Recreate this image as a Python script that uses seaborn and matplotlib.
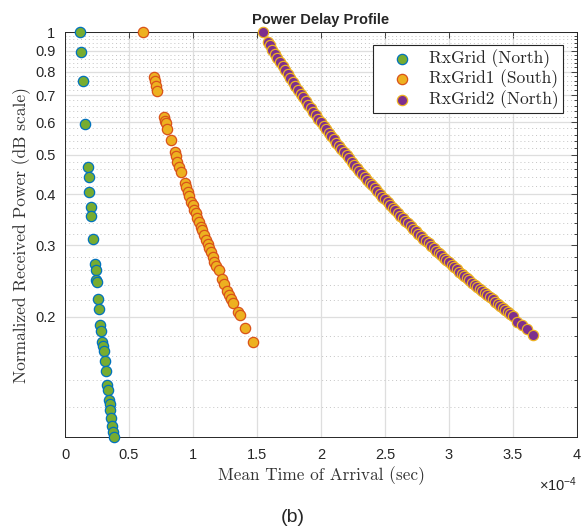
import numpy as np
import pandas as pd
import matplotlib
matplotlib.use('Agg')
import matplotlib.pyplot as plt
import seaborn as sns
from matplotlib.ticker import FixedLocator, NullFormatter

# mean time of arrival, in units of 1e-4 s
north_t = [0.117, 0.125, 0.141, 0.159, 0.177, 0.185, 0.190, 0.200, 0.203, 0.221,
           0.237, 0.242, 0.245, 0.250, 0.255, 0.266, 0.276, 0.284, 0.291, 0.299,
           0.302, 0.312, 0.320, 0.330, 0.336, 0.341, 0.349, 0.354, 0.362, 0.370,
           0.377, 0.385]
north_p = [1.000, 0.892, 0.760, 0.595, 0.466, 0.440, 0.405, 0.373, 0.354, 0.311,
           0.269, 0.261, 0.247, 0.243, 0.221, 0.209, 0.191, 0.185, 0.174, 0.170,
           0.165, 0.156, 0.147, 0.136, 0.132, 0.125, 0.122, 0.118, 0.113, 0.108,
           0.1045, 0.1017]

south_t = [0.609, 0.693, 0.700, 0.708, 0.721, 0.773, 0.781, 0.789, 0.800, 0.828,
           0.857, 0.867, 0.877, 0.893, 0.906, 0.935, 0.945, 0.958, 0.971, 0.984,
           0.997, 1.010, 1.021, 1.034, 1.047, 1.060, 1.070, 1.088, 1.102, 1.115,
           1.127, 1.141, 1.154, 1.166, 1.180, 1.203, 1.227, 1.242, 1.263, 1.281,
           1.294, 1.312, 1.349, 1.367, 1.409, 1.466]
south_p = [1.000, 0.777, 0.758, 0.736, 0.715, 0.619, 0.606, 0.597, 0.579, 0.543,
           0.508, 0.496, 0.481, 0.467, 0.453, 0.427, 0.417, 0.406, 0.395, 0.383,
           0.376, 0.366, 0.359, 0.349, 0.341, 0.333, 0.327, 0.317, 0.309, 0.302,
           0.295, 0.288, 0.280, 0.273, 0.267, 0.260, 0.248, 0.241, 0.232, 0.226,
           0.221, 0.216, 0.206, 0.2017, 0.188, 0.174]

north2_t = [1.549, 1.589, 1.60, 1.62, 1.64, 1.66, 1.68, 1.70, 1.72, 1.74, 1.76, 1.78,
            1.80, 1.82, 1.84, 1.86, 1.88, 1.90, 1.92, 1.94, 1.96, 1.98,
            2.00, 2.02, 2.04, 2.06, 2.08, 2.10, 2.12, 2.14, 2.16, 2.18,
            2.20, 2.22, 2.24, 2.26, 2.28, 2.30, 2.32, 2.34, 2.36, 2.38,
            2.40, 2.42, 2.44, 2.46, 2.48, 2.50, 2.52, 2.54, 2.56, 2.58,
            2.60, 2.62, 2.64, 2.66, 2.68, 2.70, 2.72, 2.74, 2.76, 2.78,
            2.80, 2.82, 2.84, 2.86, 2.88, 2.90, 2.92, 2.94, 2.96, 2.98,
            3.00, 3.02, 3.04, 3.06, 3.08, 3.10, 3.12, 3.14, 3.16, 3.18,
            3.20, 3.22, 3.24, 3.26, 3.28, 3.30, 3.32, 3.34, 3.36, 3.38,
            3.40, 3.42, 3.44, 3.46, 3.48, 3.50, 3.529, 3.567, 3.607, 3.659]
north2_p = [1.000, 0.947, 0.927, 0.9048, 0.8834, 0.8628, 0.8429, 0.8237, 0.8051, 0.7871,
            0.7697, 0.7530, 0.7368, 0.7210, 0.7059, 0.6911, 0.6769, 0.6631, 0.6496, 0.6367,
            0.6240, 0.6118, 0.5999, 0.5885, 0.5772, 0.5663, 0.5558, 0.5455, 0.5355, 0.5258,
            0.5164, 0.5072, 0.4982, 0.4895, 0.4810, 0.4727, 0.4647, 0.4568, 0.4491, 0.4418,
            0.4345, 0.4273, 0.4205, 0.4137, 0.4071, 0.4007, 0.3944, 0.3883, 0.3823, 0.3764,
            0.3707, 0.3651, 0.3597, 0.3543, 0.3491, 0.3440, 0.3391, 0.3342, 0.3294, 0.3247,
            0.3201, 0.3157, 0.3113, 0.3070, 0.3028, 0.2987, 0.2947, 0.2907, 0.2868, 0.2830,
            0.2793, 0.2757, 0.2721, 0.2686, 0.2652, 0.2618, 0.2585, 0.2553, 0.2521, 0.2489,
            0.2459, 0.2428, 0.2399, 0.2370, 0.2342, 0.2314, 0.2287, 0.2260, 0.2233, 0.2207,
            0.2182, 0.2156, 0.2132, 0.2107, 0.2084, 0.2060, 0.2037, 0.2014, 0.1948, 0.191,
            0.1865, 0.181]

labels = ['RxGrid (North)', 'RxGrid1 (South)', 'RxGrid2 (North)']
face_colors = ['#77AC30', '#EDB120', '#7E2F8E']
edge_colors = ['#0072BD', '#D95319', '#EDB120']

x_ticks = [0, 0.5, 1, 1.5, 2, 2.5, 3, 3.5, 4]
x_tick_labels = ['0', '0.5', '1', '1.5', '2', '2.5', '3', '3.5', '4']
y_ticks = [0.2, 0.3, 0.4, 0.5, 0.6, 0.7, 0.8, 0.9, 1.0]
y_tick_labels = ['0.2', '0.3', '0.4', '0.5', '0.6', '0.7', '0.8', '0.9', '1']

series = [(north_t, north_p), (south_t, south_p), (north2_t, north2_p)]
frames = []
for lab, (t, p) in zip(labels, series):
    frames.append(pd.DataFrame({'Time': np.array(t) * 1e-4, 'Power': p, 'Grid': lab}))
df = pd.concat(frames, ignore_index=True)

sns.set_style("white")
plt.rcParams['font.family'] = ['Liberation Sans', 'DejaVu Sans']
plt.rcParams['mathtext.fontset'] = 'custom'
plt.rcParams['mathtext.rm'] = 'Liberation Sans'

fig = plt.figure(figsize=(5.85, 5.31), dpi=100)
ax = fig.add_axes([65 / 585, 1 - 437 / 531, 512 / 585, 405 / 531])

for i, lab in enumerate(labels):
    sub = df[df['Grid'] == lab]
    sns.scatterplot(data=sub, x='Time', y='Power', ax=ax, s=55,
                    color=face_colors[i], edgecolor=edge_colors[i], linewidth=0.9,
                    label=lab, clip_on=False, zorder=3)

ax.set_yscale('log')
ax.set_xlim(0, 4e-4)
ax.set_ylim(0.1015, 1.0)
ax.set_xticks(np.array(x_ticks) * 1e-4)
ax.set_xticklabels(x_tick_labels)
ax.set_yticks(y_ticks)
ax.set_yticklabels(y_tick_labels)
ax.yaxis.set_minor_locator(FixedLocator(np.arange(0.10, 1.0, 0.02)))
ax.yaxis.set_minor_formatter(NullFormatter())
ax.tick_params(axis='both', which='both', direction='in', top=True, right=True,
               labelsize=10.5, colors='#262626', width=0.6)
ax.tick_params(axis='x', which='major', length=4, pad=8)
ax.tick_params(axis='y', which='major', length=4, pad=7)
ax.tick_params(axis='y', which='minor', length=2.5)

ax.grid(True, which='major', color='#dedede', linewidth=0.9, linestyle='-')
ax.grid(True, which='minor', axis='y', color='#c4c4c4', linewidth=0.7, linestyle=(0, (1, 3)))
ax.set_axisbelow(True)
for sp in ax.spines.values():
    sp.set_color('#262626')
    sp.set_linewidth(0.7)

ax.set_title('Power Delay Profile', fontsize=10.5, fontweight='bold', pad=6)
ax.set_xlabel('Mean Time of Arrival (sec)', family='cmr10', fontsize=12.4, labelpad=3, color='#333333')
ax.set_ylabel('Normalized Received Power (dB scale)', family='cmr10', fontsize=12.5, labelpad=3, color='#333333')
ax.text(1.0, -0.094, r'$\times\mathregular{10^{-4}}$', transform=ax.transAxes,
        ha='right', va='top', fontsize=10.5, color='#262626')

leg = ax.legend(loc='upper right', bbox_to_anchor=(0.9727, 0.968), frameon=True,
                fancybox=False, framealpha=1, edgecolor='#262626',
                prop={'family': 'cmr10', 'size': 12.5}, borderpad=0.25,
                handlelength=2.8, handletextpad=0.17, labelspacing=0.1,
                borderaxespad=0)
leg.get_frame().set_linewidth(0.8)

fig.text(0.5, 1 - 517 / 531, '(b)', ha='center', va='center', fontsize=14)

fig.savefig('out.png', dpi=100)
